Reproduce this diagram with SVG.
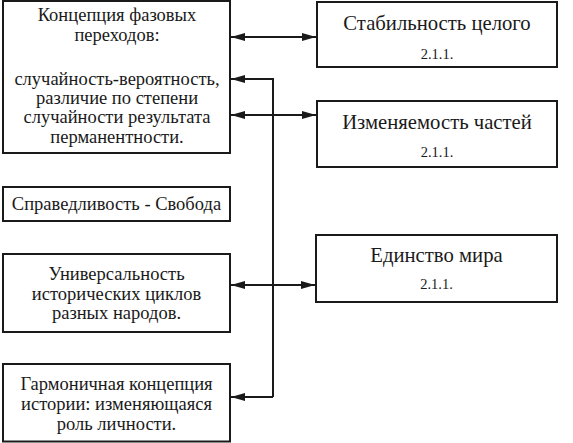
<svg xmlns="http://www.w3.org/2000/svg" width="573" height="443" viewBox="0 0 573 443">
<style>
.box{fill:#fff;stroke:#1a1a1a;stroke-width:2}
text{font-family:'Liberation Serif','Times New Roman','DejaVu Serif',serif;fill:#1a1a1a;text-anchor:middle}
.t{font-size:18.5px}
.tb{font-size:20.7px}
.n{font-size:14.5px}
.c{fill:none;stroke:#1a1a1a;stroke-width:2}
</style>
<defs>
<marker id="ah" viewBox="0 0 14 8" refX="14" refY="4" markerWidth="14" markerHeight="8" markerUnits="userSpaceOnUse" orient="auto-start-reverse">
<path d="M0,0 L14,4 L0,8 Z" fill="#1a1a1a"/>
</marker>
</defs>
<rect width="573" height="443" fill="#fff"/>
<g id="connectors">
<path class="c" d="M231,37 H316" marker-start="url(#ah)" marker-end="url(#ah)"/>
<path class="c" d="M231,115 H316" marker-start="url(#ah)" marker-end="url(#ah)"/>
<path class="c" d="M273,397 V79 H231" marker-end="url(#ah)"/>
<path class="c" d="M231,285 H315" marker-start="url(#ah)" marker-end="url(#ah)"/>
<path class="c" d="M273,397 H231" marker-end="url(#ah)"/>
</g>
<g id="n1">
<rect class="box" x="3" y="1" width="227" height="152"/>
<text class="t" x="117" y="21">Концепция фазовых</text>
<text class="t" x="117" y="40.7">переходов:</text>
<text class="t" x="117" y="85">случайность-вероятность,</text>
<text class="t" x="117" y="103.5">различие по степени</text>
<text class="t" x="117" y="123">случайности результата</text>
<text class="t" x="117" y="142.5">перманентности.</text>
</g>
<g id="n2">
<rect class="box" x="317" y="2" width="240" height="65"/>
<text class="tb" x="437" y="30">Стабильность целого</text>
<text class="n" x="437" y="58.5">2.1.1.</text>
</g>
<g id="n3">
<rect class="box" x="317" y="101" width="240" height="66"/>
<text class="tb" x="437" y="128.5">Изменяемость частей</text>
<text class="n" x="437" y="157">2.1.1.</text>
</g>
<g id="n4">
<rect class="box" x="3" y="187" width="227" height="34"/>
<text class="t" x="116.5" y="209.5">Справедливость - Свобода</text>
</g>
<g id="n5">
<rect class="box" x="3" y="254" width="227" height="78"/>
<text class="t" x="116.5" y="279.5">Универсальность</text>
<text class="t" x="116.5" y="299.5">исторических циклов</text>
<text class="t" x="116.5" y="318.5">разных народов.</text>
</g>
<g id="n6">
<rect class="box" x="316" y="235" width="241" height="67"/>
<text class="tb" x="436.5" y="262">Единство мира</text>
<text class="n" x="436.5" y="288.5">2.1.1.</text>
</g>
<g id="n7">
<rect class="box" x="3" y="364" width="227" height="77.5"/>
<text class="t" x="116.5" y="390">Гармоничная концепция</text>
<text class="t" x="116.5" y="410">истории: изменяющаяся</text>
<text class="t" x="116.5" y="430">роль личности.</text>
</g>
</svg>
